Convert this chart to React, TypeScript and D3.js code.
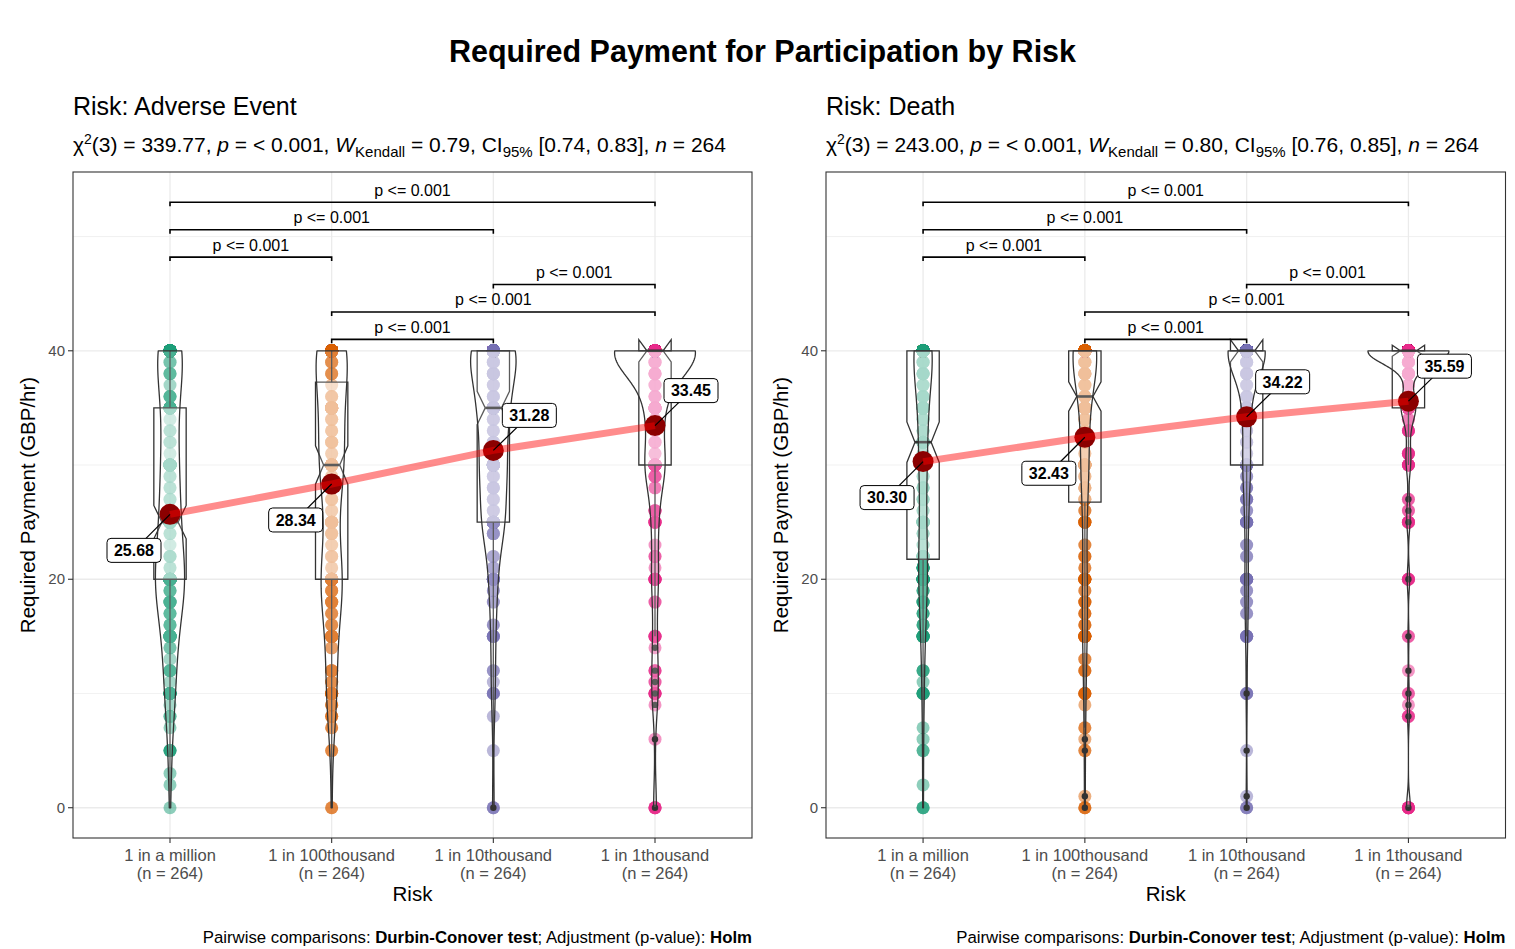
import { line, scalePoint, scaleLinear, select, deviation, quantileSorted, max, min } from 'd3';
import { useEffect, useRef } from 'react';

type Bin = [number, number]; // [payment value, number of respondents]

const categories = ['1 in a million', '1 in 100thousand', '1 in 10thousand', '1 in 1thousand'];
const sampleSizes = [264, 264, 264, 264];
const groupColors = ['#1B9E77', '#D95F02', '#7570B3', '#E7298A'];

// Risk: Adverse Event
const adverseMillion: Bin[] = [
  [0, 1], [2, 1], [3, 1], [5, 4], [7, 1], [8, 2], [9, 1], [10, 13], [11, 1], [12, 4], [13, 1], [14, 2],
  [15, 17], [16, 3], [17, 3], [18, 6], [19, 3], [20, 45], [21, 2], [22, 3], [23, 1], [24, 2], [25, 30],
  [26, 2], [27, 2], [28, 2], [29, 2], [30, 25], [31, 1], [32, 2], [33, 2], [34, 1], [35, 20], [36, 4],
  [37, 1], [38, 3], [39, 2], [40, 48]
];
const adverseHundredK: Bin[] = [
  [0, 2], [5, 2], [7, 2], [8, 3], [9, 3], [10, 8], [11, 3], [12, 5], [14, 2], [15, 10], [16, 3], [17, 3],
  [18, 6], [19, 4], [20, 29], [21, 2], [22, 3], [23, 2], [24, 4], [25, 10], [26, 2], [27, 3], [28, 4],
  [29, 2], [30, 35], [31, 2], [32, 4], [33, 3], [34, 3], [35, 30], [36, 3], [37, 1], [38, 3], [39, 3],
  [40, 60]
];
const adverseTenK: Bin[] = [
  [0, 3], [5, 1], [8, 1], [10, 4], [11, 1], [12, 2], [15, 5], [16, 2], [18, 2], [19, 2], [20, 8], [21, 2],
  [22, 2], [24, 4], [25, 30], [26, 3], [27, 3], [28, 5], [29, 3], [30, 34], [31, 2], [32, 4], [33, 3],
  [34, 3], [35, 40], [36, 4], [37, 3], [38, 6], [39, 4], [40, 78]
];
const adverseThousand: Bin[] = [
  [0, 5], [6, 1], [9, 1], [10, 6], [11, 2], [12, 3], [14, 1], [15, 5], [18, 2], [20, 8], [21, 1], [22, 2],
  [23, 1], [25, 6], [26, 4], [28, 2], [29, 4], [30, 25], [31, 2], [32, 3], [33, 2], [34, 2], [35, 20],
  [36, 4], [37, 3], [38, 5], [39, 4], [40, 140]
];

// Risk: Death
const deathMillion: Bin[] = [
  [0, 3], [2, 1], [5, 2], [6, 1], [7, 1], [10, 6], [11, 1], [12, 3], [15, 10], [16, 3], [17, 3], [18, 5],
  [19, 3], [20, 15], [21, 9], [22, 10], [23, 2], [24, 3], [25, 12], [26, 2], [27, 3], [28, 4], [29, 2],
  [30, 18], [31, 2], [32, 10], [33, 3], [34, 3], [35, 20], [36, 5], [37, 3], [38, 6], [39, 4], [40, 86]
];
const deathHundredK: Bin[] = [
  [0, 3], [1, 1], [5, 2], [6, 1], [7, 2], [9, 1], [10, 5], [12, 3], [13, 2], [15, 10], [16, 3], [17, 3],
  [18, 4], [19, 2], [20, 9], [21, 2], [22, 3], [23, 2], [25, 6], [26, 2], [27, 4], [28, 5], [29, 3],
  [30, 20], [31, 2], [32, 5], [33, 4], [34, 4], [35, 15], [36, 8], [37, 4], [38, 8], [39, 5], [40, 111]
];
const deathTenK: Bin[] = [
  [0, 3], [1, 1], [5, 1], [10, 4], [15, 6], [17, 2], [18, 2], [19, 2], [20, 8], [22, 2], [23, 2], [25, 7],
  [26, 2], [27, 4], [28, 3], [29, 2], [30, 20], [31, 2], [32, 3], [33, 3], [34, 3], [35, 18], [36, 4],
  [37, 3], [38, 5], [39, 4], [40, 148]
];
const deathThousand: Bin[] = [
  [0, 8], [8, 3], [9, 1], [10, 2], [12, 1], [15, 2], [20, 5], [25, 5], [26, 2], [27, 2], [30, 6], [31, 5],
  [33, 5], [34, 2], [35, 25], [36, 5], [37, 4], [38, 8], [39, 5], [40, 168]
];

const adverseMeans = [25.68, 28.34, 31.28, 33.45];
const deathMeans = [30.3, 32.43, 34.22, 35.59];

const panelTitles = ['Risk: Adverse Event', 'Risk: Death'];
const chiSquared = [339.77, 243.0];
const kendallW = [0.79, 0.8];
const kendallCI = [[0.74, 0.83], [0.76, 0.85]];

// pairwise Durbin-Conover brackets (group numbers, 1-based) and their heights
const bracketPairs = [[2, 3], [2, 4], [3, 4], [1, 2], [1, 3], [1, 4]];
const bracketHeights = [41.0, 43.4, 45.8, 48.2, 50.6, 53.0];
const bracketLabels = ['p <= 0.001', 'p <= 0.001', 'p <= 0.001', 'p <= 0.001', 'p <= 0.001', 'p <= 0.001'];

const yTicks = [0, 20, 40];
const yMinorTicks = [10, 30, 50];

const FONT = 'Liberation Sans, Arial, Helvetica, sans-serif';

const expand = (bins: Bin[]): number[] => {
  const out: number[] = [];
  bins.forEach(([v, c]) => {
    for (let i = 0; i < c; i++) out.push(v);
  });
  return out.sort((a, b) => a - b);
};

// R's bw.nrd0
const bandwidth = (sorted: number[]): number => {
  const sd = deviation(sorted) || 0;
  const iqr = (quantileSorted(sorted, 0.75) || 0) - (quantileSorted(sorted, 0.25) || 0);
  let lo = Math.min(sd, iqr / 1.34);
  if (!lo) lo = sd || 1;
  return 0.9 * lo * Math.pow(sorted.length, -0.2);
};

const density = (bins: Bin[], n: number, bw: number, lo: number, hi: number): [number, number][] => {
  const pts: [number, number][] = [];
  for (let i = 0; i < 512; i++) {
    const y = lo + ((hi - lo) * i) / 511;
    let s = 0;
    bins.forEach(([v, c]) => {
      const z = (y - v) / bw;
      s += c * Math.exp(-0.5 * z * z);
    });
    pts.push([y, s / (n * bw * Math.sqrt(2 * Math.PI))]);
  }
  return pts;
};

interface PanelSpec {
  left: number;
  right: number;
  index: number;
  groups: Bin[][];
  means: number[];
}

function App(): JSX.Element {
  const svgRef = useRef<SVGSVGElement | null>(null);
  const width = 1515;
  const height = 949;

  useEffect(() => {
    document.body.style.margin = '0';
    if (svgRef.current) svgRef.current.innerHTML = '';
    const svg = select(svgRef.current);
    svg.attr('width', width).attr('height', height).style('font-family', FONT);

    svg.append('rect').attr('width', width).attr('height', height).attr('fill', 'white');

    svg
      .append('text')
      .attr('x', width / 2 + 5)
      .attr('y', 62)
      .attr('text-anchor', 'middle')
      .attr('font-size', 30.5)
      .attr('font-weight', 'bold')
      .text('Required Payment for Participation by Risk');

    const top = 172;
    const bottom = 838;

    const panels: PanelSpec[] = [
      { left: 73, right: 752, index: 0, groups: [adverseMillion, adverseHundredK, adverseTenK, adverseThousand], means: adverseMeans },
      { left: 826, right: 1505.5, index: 1, groups: [deathMillion, deathHundredK, deathTenK, deathThousand], means: deathMeans }
    ];

    panels.forEach((p) => {
      const g = svg.append('g');
      const x = scalePoint<string>().domain(categories).range([p.left, p.right]).padding(0.6);
      const step = x.step();

      const dataMin = min(p.groups, (b) => min(b, (d) => d[0])) || 0;
      const dataMax = Math.max(max(bracketHeights) || 0, max(p.groups, (b) => max(b, (d) => d[0])) || 0);
      const pad = (dataMax - dataMin) * 0.05;
      const y = scaleLinear().domain([dataMin - pad, dataMax + pad]).range([bottom, top]);

      // titles
      g.append('text')
        .attr('x', p.left)
        .attr('y', 115)
        .attr('font-size', 25)
        .text(panelTitles[p.index]);

      const st = g.append('text').attr('x', p.left).attr('y', 152).attr('font-size', 21).style('white-space', 'pre');
      const [ciLo, ciHi] = kendallCI[p.index];
      st.append('tspan').text('\u03C7');
      st.append('tspan').attr('dy', -8).attr('font-size', 14).text('2');
      st.append('tspan').attr('dy', 8).text(`(3) = ${chiSquared[p.index].toFixed(2)}, `);
      st.append('tspan').attr('font-style', 'italic').text('p');
      st.append('tspan').text(' = < 0.001, ');
      st.append('tspan').attr('font-style', 'italic').text('W');
      st.append('tspan').attr('dy', 5).attr('font-size', 15).text('Kendall');
      st.append('tspan').attr('dy', -5).text(` = ${kendallW[p.index].toFixed(2)}, CI`);
      st.append('tspan').attr('dy', 5).attr('font-size', 15).text('95%');
      st.append('tspan').attr('dy', -5).text(` [${ciLo.toFixed(2)}, ${ciHi.toFixed(2)}], `);
      st.append('tspan').attr('font-style', 'italic').text('n');
      st.append('tspan').text(` = ${sampleSizes[0]}`);

      // grid
      yMinorTicks.forEach((t) => {
        g.append('line')
          .attr('x1', p.left).attr('x2', p.right)
          .attr('y1', y(t)).attr('y2', y(t))
          .attr('stroke', '#EBEBEB').attr('stroke-width', 0.7);
      });
      yTicks.forEach((t) => {
        g.append('line')
          .attr('x1', p.left).attr('x2', p.right)
          .attr('y1', y(t)).attr('y2', y(t))
          .attr('stroke', '#EBEBEB').attr('stroke-width', 1.3);
      });
      categories.forEach((c) => {
        g.append('line')
          .attr('x1', x(c)!).attr('x2', x(c)!)
          .attr('y1', top).attr('y2', bottom)
          .attr('stroke', '#EBEBEB').attr('stroke-width', 1.3);
      });

      const groupData = p.groups.map((bins) => {
        const values = expand(bins);
        const n = values.length;
        const q1 = quantileSorted(values, 0.25) || 0;
        const med = quantileSorted(values, 0.5) || 0;
        const q3 = quantileSorted(values, 0.75) || 0;
        const iqr = q3 - q1;
        const loFence = q1 - 1.5 * iqr;
        const hiFence = q3 + 1.5 * iqr;
        const inside = values.filter((v) => v >= loFence && v <= hiFence);
        const bw = bandwidth(values);
        const dens = density(bins, n, bw, values[0], values[n - 1]);
        return {
          bins, values, n, q1, med, q3,
          notch: (1.58 * iqr) / Math.sqrt(n),
          wLo: min(inside) || 0,
          wHi: max(inside) || 0,
          outliers: Array.from(new Set(values.filter((v) => v < loFence || v > hiFence))),
          dens
        };
      });
      const maxDens = max(groupData, (gd) => max(gd.dens, (d) => d[1])) || 1;

      // raw points
      groupData.forEach((gd, i) => {
        const cx = x(categories[i])!;
        gd.values.forEach((v) => {
          g.append('circle')
            .attr('cx', cx).attr('cy', y(v)).attr('r', 6.5)
            .attr('fill', groupColors[i]).attr('fill-opacity', 0.5);
        });
      });

      // notched boxplots
      groupData.forEach((gd, i) => {
        const cx = x(categories[i])!;
        const bw2 = step * 0.1;
        const xmin = cx - bw2;
        const xmax = cx + bw2;
        const indent = bw2 * 0.5;
        g.append('line')
          .attr('x1', cx).attr('x2', cx).attr('y1', y(gd.q3)).attr('y2', y(gd.wHi))
          .attr('stroke', '#333333').attr('stroke-width', 1.3);
        g.append('line')
          .attr('x1', cx).attr('x2', cx).attr('y1', y(gd.q1)).attr('y2', y(gd.wLo))
          .attr('stroke', '#333333').attr('stroke-width', 1.3);
        const nu = gd.med + gd.notch;
        const nl = gd.med - gd.notch;
        const poly: [number, number][] = [
          [xmin, y(gd.q3)], [xmin, y(nu)], [xmin + indent, y(gd.med)], [xmin, y(nl)], [xmin, y(gd.q1)],
          [xmax, y(gd.q1)], [xmax, y(nl)], [xmax - indent, y(gd.med)], [xmax, y(nu)], [xmax, y(gd.q3)]
        ];
        g.append('path')
          .attr('d', `M${poly.map((pt) => pt.join(',')).join('L')}Z`)
          .attr('fill', 'white').attr('fill-opacity', 0.5)
          .attr('stroke', '#333333').attr('stroke-width', 1.3);
        g.append('line')
          .attr('x1', xmin + indent).attr('x2', xmax - indent)
          .attr('y1', y(gd.med)).attr('y2', y(gd.med))
          .attr('stroke', '#333333').attr('stroke-width', 2.6);
        gd.outliers.forEach((v) => {
          g.append('circle').attr('cx', cx).attr('cy', y(v)).attr('r', 3.2).attr('fill', '#333333');
        });
      });

      // violins (scale = "area", width 0.5)
      groupData.forEach((gd, i) => {
        const cx = x(categories[i])!;
        const half = (d: [number, number]): number => (d[1] / maxDens) * 0.25 * step;
        const rightSide = gd.dens.map((d) => [cx + half(d), y(d[0])]);
        const leftSide = gd.dens.slice().reverse().map((d) => [cx - half(d), y(d[0])]);
        const pts = rightSide.concat(leftSide);
        g.append('path')
          .attr('d', `M${pts.map((pt) => `${pt[0].toFixed(2)},${pt[1].toFixed(2)}`).join('L')}Z`)
          .attr('fill', 'white').attr('fill-opacity', 0.2)
          .attr('stroke', '#333333').attr('stroke-width', 1.3).attr('stroke-linejoin', 'round');
      });

      // centrality
      const meanPts: [number, number][] = p.means.map((m, i) => [x(categories[i])!, y(m)]);
      meanPts.forEach(([mx, my]) => {
        g.append('circle').attr('cx', mx).attr('cy', my).attr('r', 10.5).attr('fill', '#8B0000');
      });
      g.append('path')
        .attr('d', line()(meanPts))
        .attr('fill', 'none').attr('stroke', 'red').attr('stroke-opacity', 0.45).attr('stroke-width', 7);

      const nudges = [[-36, 36], [-36, 36], [36, -35], [36, -35]];
      p.means.forEach((m, i) => {
        const [mx, my] = meanPts[i];
        const lx = mx + nudges[i][0];
        const ly = my + nudges[i][1];
        g.append('line')
          .attr('x1', mx).attr('y1', my).attr('x2', lx).attr('y2', ly)
          .attr('stroke', 'black').attr('stroke-width', 1.2);
        g.append('rect')
          .attr('x', lx - 27).attr('y', ly - 12).attr('width', 54).attr('height', 24).attr('rx', 4)
          .attr('fill', 'white').attr('stroke', 'black').attr('stroke-width', 1);
        g.append('text')
          .attr('x', lx).attr('y', ly + 5.8).attr('text-anchor', 'middle')
          .attr('font-size', 16).attr('font-weight', 'bold')
          .text(m.toFixed(2));
      });

      // significance brackets
      bracketPairs.forEach(([a, b], k) => {
        const x1 = x(categories[a - 1])!;
        const x2 = x(categories[b - 1])!;
        const by = y(bracketHeights[k]);
        g.append('path')
          .attr('d', `M${x1},${by + 4}V${by}H${x2}V${by + 4}`)
          .attr('fill', 'none').attr('stroke', 'black').attr('stroke-width', 1.6);
        g.append('text')
          .attr('x', (x1 + x2) / 2).attr('y', by - 6.5).attr('text-anchor', 'middle')
          .attr('font-size', 16)
          .text(bracketLabels[k]);
      });

      // frame
      g.append('rect')
        .attr('x', p.left).attr('y', top).attr('width', p.right - p.left).attr('height', bottom - top)
        .attr('fill', 'none').attr('stroke', '#333333').attr('stroke-width', 1.1);

      // axes
      yTicks.forEach((t) => {
        g.append('line')
          .attr('x1', p.left - 5).attr('x2', p.left).attr('y1', y(t)).attr('y2', y(t))
          .attr('stroke', '#333333').attr('stroke-width', 1.1);
        g.append('text')
          .attr('x', p.left - 8).attr('y', y(t) + 5).attr('text-anchor', 'end')
          .attr('font-size', 15).attr('fill', '#4D4D4D')
          .text(t);
      });
      categories.forEach((c, i) => {
        g.append('line')
          .attr('x1', x(c)!).attr('x2', x(c)!).attr('y1', bottom).attr('y2', bottom + 5)
          .attr('stroke', '#333333').attr('stroke-width', 1.1);
        const t = g.append('text').attr('text-anchor', 'middle').attr('font-size', 16.5).attr('fill', '#4D4D4D');
        t.append('tspan').attr('x', x(c)!).attr('y', 861).text(c);
        t.append('tspan').attr('x', x(c)!).attr('y', 879).text(`(n = ${sampleSizes[i]})`);
      });

      g.append('text')
        .attr('x', (p.left + p.right) / 2).attr('y', 901).attr('text-anchor', 'middle')
        .attr('font-size', 20.5)
        .text('Risk');

      g.append('text')
        .attr('transform', `translate(${p.left - 38},${(top + bottom) / 2}) rotate(-90)`)
        .attr('text-anchor', 'middle')
        .attr('font-size', 20.5)
        .text('Required Payment (GBP/hr)');

      const cap = g.append('text')
        .attr('x', p.right).attr('y', 943).attr('text-anchor', 'end')
        .attr('font-size', 16.8).style('white-space', 'pre');
      cap.append('tspan').text('Pairwise comparisons: ');
      cap.append('tspan').attr('font-weight', 'bold').text('Durbin-Conover test');
      cap.append('tspan').text('; Adjustment (p-value): ');
      cap.append('tspan').attr('font-weight', 'bold').text('Holm');
    });
  }, []);

  return (
    <div style={{ position: 'relative' }}>
      <svg ref={svgRef} style={{ display: 'block' }} />
    </div>
  );
}

export default App;
